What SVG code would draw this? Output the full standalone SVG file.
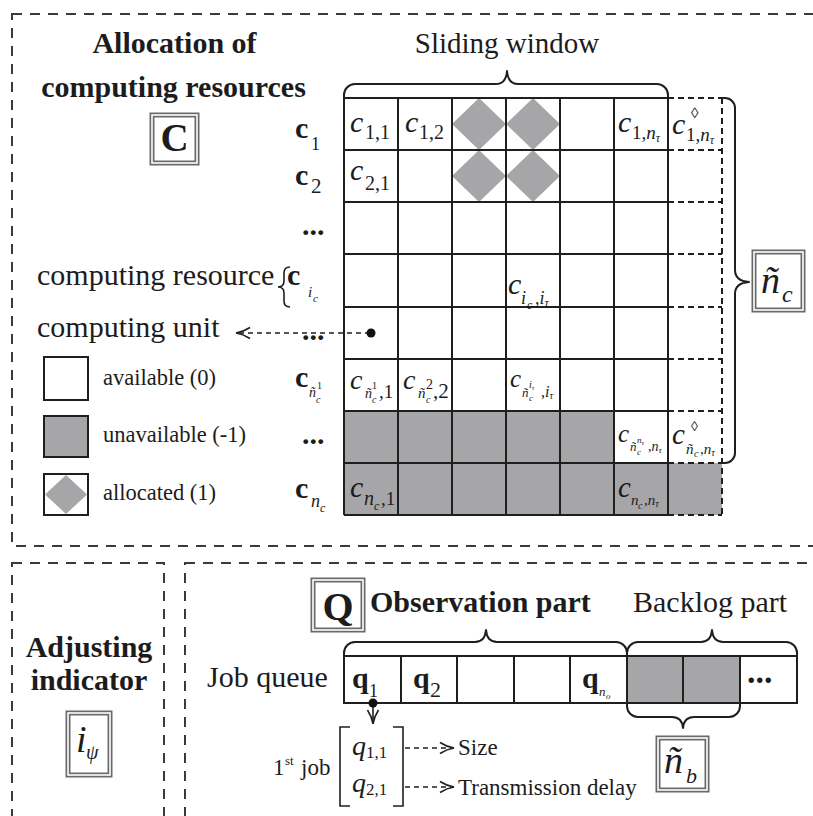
<svg xmlns="http://www.w3.org/2000/svg" width="813" height="816" viewBox="0 0 813 816">
  <defs>
    <style>
      .t { font-family: "Liberation Serif", "Times New Roman", serif; fill: #1c1c1c; }
      .b { font-weight: bold; }
      .i { font-style: italic; }
      .panel { fill: none; stroke: #3a3a3a; stroke-width: 2; stroke-dasharray: 10 8; }
      .grid { stroke: #1f1f1f; stroke-width: 2; fill: none; }
      .dgrid { stroke: #1f1f1f; stroke-width: 2; fill: none; stroke-dasharray: 6 4; }
      .gray { fill: #a6a6a9; }
      .brace { fill: none; stroke: #1f1f1f; stroke-width: 2; stroke-linejoin: round; }
      .box-out { fill: #ffffff; stroke: #6a6a6a; stroke-width: 5; }
      .box-in { fill: none; stroke: #ffffff; stroke-width: 1.6; }
      .conn { fill: none; stroke: #1f1f1f; stroke-width: 1.6; stroke-dasharray: 5 4; }
      .solid { fill: none; stroke: #1f1f1f; stroke-width: 1.6; }
    </style>
    <marker id="chev" viewBox="0 0 16 14" refX="15" refY="7" markerWidth="16" markerHeight="14" markerUnits="userSpaceOnUse" orient="auto">
      <path d="M1,1.5 Q8,6 15,7 Q8,8 1,12.5" fill="none" stroke="#1f1f1f" stroke-width="1.6"/>
    </marker>
  </defs>

  <rect width="813" height="816" fill="#ffffff"/>

  <!-- panel frames -->
  <g id="panels">
    <rect class="panel" x="12" y="14" width="830" height="532"/>
    <rect class="panel" x="12" y="563" width="152" height="300"/>
    <rect class="panel" x="185" y="563" width="700" height="300"/>
  </g>

  <!-- title of the allocation matrix -->
  <g id="title-C">
    <text class="t b" x="174.5" y="53" font-size="30" text-anchor="middle">Allocation of</text>
    <text class="t b" x="173.5" y="97" font-size="30" text-anchor="middle">computing resources</text>
    <rect class="box-out" x="152" y="115" width="45" height="48"/>
    <rect class="box-in" x="152" y="115" width="45" height="48"/>
    <text class="t b" x="174.5" y="151" font-size="39" text-anchor="middle">C</text>
  </g>

  <g id="sliding-window">
    <text class="t" x="507" y="53" font-size="29" text-anchor="middle">Sliding window</text>
    <path class="brace" d="M344,98 V95 A11,11 0 0 1 355,84 H496 Q506,84 507,71 Q508,84 518,84 H657 A11,11 0 0 1 668,95 V98"/>
  </g>

  <!-- allocation matrix -->
  <g id="matrix">
    <rect class="gray" x="344" y="411" width="270" height="52"/>
    <rect class="gray" x="344" y="463" width="378" height="52"/>
    <polygon class="gray" points="452,124 479,98 506,124 479,150"/>
    <polygon class="gray" points="506,124 533,98 560,124 533,150"/>
    <polygon class="gray" points="452,176 479,150 506,176 479,202"/>
    <polygon class="gray" points="506,176 533,150 560,176 533,202"/>
    <path class="grid" d="M344,98 V515 M398,98 V515 M452,98 V515 M506,98 V515 M560,98 V515 M614,98 V515 M668,98 V515
      M344,98 H668 M344,150 H668 M344,202 H668 M344,254 H668 M344,307 H668 M344,359 H668 M344,411 H668 M344,463 H668 M344,515 H668"/>
    <path class="dgrid" d="M668,98 H722 M668,150 H722 M668,202 H722 M668,254 H722 M668,307 H722 M668,359 H722 M668,411 H722 M668,463 H722 M668,515 H722 M722,98 V515"/>
  </g>

  <!-- entries of the matrix -->
  <g id="cell-labels">
    <text class="t i" x="350" y="132" font-size="30">c</text>
    <text class="t" x="365" y="139" font-size="20">1,1</text>
    <text class="t i" x="405" y="132" font-size="30">c</text>
    <text class="t" x="419" y="139" font-size="20">1,2</text>
    <text class="t i" x="618" y="132" font-size="30">c</text>
    <text class="t" x="632" y="139" font-size="19">1,<tspan class="i">n</tspan><tspan class="i" font-size="12" dy="3">τ</tspan></text>
    <text class="t i" x="672" y="134" font-size="30">c</text>
    <text class="t" x="691" y="118" font-size="15">◊</text>
    <text class="t" x="686" y="141" font-size="19">1,<tspan class="i">n</tspan><tspan class="i" font-size="12" dy="3">τ</tspan></text>

    <text class="t i" x="350" y="180" font-size="30">c</text>
    <text class="t" x="365" y="190" font-size="20">2,1</text>

    <text class="t i" x="508" y="294" font-size="30">c</text>
    <text class="t i" x="521" y="304" font-size="18">i</text>
    <text class="t i" x="527" y="309" font-size="12">c</text>
    <text class="t" x="535" y="304" font-size="18">,<tspan class="i">i</tspan><tspan class="i" font-size="12" dy="3">τ</tspan></text>

    <text class="t i" x="350" y="389" font-size="28">c</text>
    <text class="t i" x="365" y="398" font-size="14">ñ</text>
    <text class="t" x="372" y="389" font-size="10">1</text>
    <text class="t i" x="372" y="403" font-size="10">c</text>
    <text class="t" x="379" y="398" font-size="19">,1</text>
    <text class="t i" x="403" y="389" font-size="28">c</text>
    <text class="t i" x="418" y="398" font-size="15">ñ</text>
    <text class="t" x="426" y="389" font-size="14">2</text>
    <text class="t i" x="426" y="403" font-size="10">c</text>
    <text class="t" x="433" y="398" font-size="21">,2</text>
    <text class="t i" x="510" y="387" font-size="25">c</text>
    <text class="t i" x="522" y="397" font-size="13">ñ</text>
    <text class="t i" x="529" y="388" font-size="10">i<tspan font-size="7" dy="2">τ</tspan></text>
    <text class="t i" x="529" y="401" font-size="9">c</text>
    <text class="t" x="541" y="397" font-size="16">,<tspan class="i">i</tspan><tspan class="i" font-size="10" dy="2">τ</tspan></text>

    <text class="t i" x="618" y="442" font-size="25">c</text>
    <text class="t i" x="630" y="451" font-size="13">ñ</text>
    <text class="t i" x="637" y="443" font-size="9">n<tspan font-size="7" dy="2">τ</tspan></text>
    <text class="t i" x="637" y="455" font-size="9">c</text>
    <text class="t" x="648" y="451" font-size="14">,<tspan class="i">n</tspan><tspan class="i" font-size="9" dy="2">τ</tspan></text>
    <text class="t i" x="672" y="444" font-size="29">c</text>
    <text class="t" x="691" y="431" font-size="14">◊</text>
    <text class="t i" x="686" y="454" font-size="15">ñ</text>
    <text class="t i" x="694" y="457" font-size="10">c</text>
    <text class="t" x="700" y="454" font-size="15">,<tspan class="i">n</tspan><tspan class="i" font-size="10" dy="2">τ</tspan></text>

    <text class="t i" x="350" y="497" font-size="30">c</text>
    <text class="t i" x="364" y="505" font-size="20">n</text>
    <text class="t i" x="374" y="510" font-size="12">c</text>
    <text class="t" x="381" y="505" font-size="19">,1</text>
    <text class="t i" x="618" y="497" font-size="29">c</text>
    <text class="t i" x="631" y="505" font-size="15">n</text>
    <text class="t i" x="638" y="509" font-size="10">c</text>
    <text class="t" x="644" y="505" font-size="15">,<tspan class="i">n</tspan><tspan class="i" font-size="10" dy="2">τ</tspan></text>
  </g>

  <!-- row vectors of the matrix -->
  <g id="row-labels">
    <text class="t b" x="295" y="138" font-size="30">c</text>
    <text class="t" x="311" y="150" font-size="18">1</text>
    <text class="t b" x="295" y="185" font-size="30">c</text>
    <text class="t" x="311" y="193" font-size="21">2</text>
    <text class="t b" x="302" y="235" font-size="30">...</text>
    <text class="t b" x="295" y="387" font-size="30">c</text>
    <text class="t i" x="309" y="397" font-size="14">ñ</text>
    <text class="t" x="317" y="389" font-size="10">1</text>
    <text class="t i" x="316" y="403" font-size="10">c</text>
    <text class="t b" x="302" y="444" font-size="30">...</text>
    <text class="t b" x="295" y="498" font-size="30">c</text>
    <text class="t i" x="311" y="507" font-size="18">n</text>
    <text class="t i" x="320" y="512" font-size="12">c</text>
  </g>

  <g id="computing-resource">
    <text class="t" x="37" y="285" font-size="30">computing resource</text>
    <path class="solid" d="M290,267 Q284,267 284,273 V281 Q284,287 278,287 Q284,287 284,293 V301 Q284,307 290,307"/>
    <text class="t b" x="287" y="285" font-size="30">c</text>
    <text class="t i" x="308" y="297" font-size="15">i</text>
    <text class="t i" x="313" y="302" font-size="11">c</text>
  </g>

  <g id="computing-unit">
    <text class="t" x="37" y="337" font-size="30">computing unit</text>
    <text class="t b" x="302" y="340" font-size="30">...</text>
  </g>

  <g id="legend">
    <rect x="44" y="357" width="44" height="43" fill="#ffffff" stroke="#1f1f1f" stroke-width="2"/>
    <text class="t" x="103" y="385" font-size="22.5">available (0)</text>
    <rect class="gray" x="44" y="416" width="44" height="41" stroke="#1f1f1f" stroke-width="2"/>
    <text class="t" x="103" y="442" font-size="22.5">unavailable (-1)</text>
    <rect x="44" y="474" width="44" height="41" fill="#ffffff" stroke="#1f1f1f" stroke-width="2"/>
    <polygon class="gray" points="45,494.5 66,475 87,494.5 66,514"/>
    <text class="t" x="103" y="500" font-size="22.5">allocated (1)</text>
  </g>

  <g id="n-c">
    <rect class="box-out" x="754" y="252" width="49" height="58"/>
    <rect class="box-in" x="754" y="252" width="49" height="58"/>
    <text class="t i" x="761" y="293" font-size="38">ñ</text>
    <text class="t i" x="782" y="302" font-size="24">c</text>
  </g>

  <!-- adjusting indicator panel -->
  <g id="adjusting-indicator">
    <text class="t b" x="89" y="657" font-size="30" text-anchor="middle">Adjusting</text>
    <text class="t b" x="89" y="690" font-size="30" text-anchor="middle">indicator</text>
    <rect class="box-out" x="68" y="713" width="42" height="62"/>
    <rect class="box-in" x="68" y="713" width="42" height="62"/>
    <text class="t i" x="76" y="752" font-size="38">i</text>
    <text class="t i" x="86" y="759" font-size="20">ψ</text>
  </g>

  <!-- job queue panel -->
  <g id="title-Q">
    <rect class="box-out" x="313" y="580" width="50" height="50"/>
    <rect class="box-in" x="313" y="580" width="50" height="50"/>
    <text class="t b" x="338" y="620" font-size="40" text-anchor="middle">Q</text>
    <text class="t b" x="370" y="612" font-size="30">Observation part</text>
    <text class="t" x="633" y="612" font-size="30">Backlog part</text>
  </g>

  <g id="job-queue">
    <text class="t" x="207" y="687" font-size="30">Job queue</text>
    <rect class="gray" x="627" y="656" width="113" height="47"/>
    <path class="grid" d="M344,656 H797 V703 H344 Z M401,656 V703 M457,656 V703 M514,656 V703 M570,656 V703 M627,656 V703 M683,656 V703 M740,656 V703"/>
    <text class="t b" x="352" y="688" font-size="30">q</text>
    <text class="t" x="369" y="697" font-size="18">1</text>
    <text class="t b" x="413" y="688" font-size="30">q</text>
    <text class="t" x="430" y="697" font-size="22">2</text>
    <text class="t b" x="582" y="688" font-size="30">q</text>
    <text class="t i" x="599" y="696" font-size="13">n</text>
    <text class="t i" x="606" y="699" font-size="9">o</text>
    <text class="t b" x="747" y="683" font-size="34">...</text>
    <path class="brace" d="M344,656 V653 A11,11 0 0 1 355,642 H475 Q485,642 486,630 Q487,642 497,642 H616 A11,11 0 0 1 627,653 V656"/>
    <path class="brace" d="M627,656 V653 A11,11 0 0 1 638,642 H701 Q711,642 712,630 Q713,642 723,642 H786 A11,11 0 0 1 797,653 V656"/>
    <path class="brace" d="M627,703 V706 A11,11 0 0 0 638,717 H672 Q682,717 683,728 Q684,717 694,717 H729 A11,11 0 0 0 740,706 V703"/>
  </g>

  <g id="n-b">
    <rect class="box-out" x="658" y="738" width="49" height="52"/>
    <rect class="box-in" x="658" y="738" width="49" height="52"/>
    <text class="t i" x="664" y="773" font-size="38">ñ</text>
    <text class="t i" x="686" y="783" font-size="22">b</text>
  </g>

  <g id="first-job">
    <text class="t" x="273" y="775" font-size="23">1</text>
    <text class="t" x="285" y="765" font-size="13">st</text>
    <text class="t" x="301" y="775" font-size="23">job</text>
    <path class="solid" d="M350,727 H340 V806 H350 M393,727 H403 V806 H393"/>
    <text class="t i" x="352" y="755" font-size="28">q</text>
    <text class="t" x="366" y="758" font-size="17">1,1</text>
    <text class="t i" x="352" y="792" font-size="28">q</text>
    <text class="t" x="366" y="795" font-size="17">2,1</text>
    <text class="t" x="458" y="755" font-size="23">Size</text>
    <text class="t" x="458" y="795" font-size="23">Transmission delay</text>
  </g>

  <!-- connectors -->
  <g id="connectors">
    <path class="conn" d="M370,333 H236" marker-end="url(#chev)"/>
    <circle cx="371" cy="333" r="4.5" fill="#111"/>
    <path class="solid" d="M373,703 V724" marker-end="url(#chev)"/>
    <circle cx="373" cy="703" r="4.5" fill="#111"/>
    <path class="conn" d="M405,748 H454" marker-end="url(#chev)"/>
    <path class="conn" d="M405,787 H454" marker-end="url(#chev)"/>
    <path class="brace" d="M722,98 H725 A10,10 0 0 1 735,108 V270 Q735,281 749,282 Q735,283 735,294 V453 A10,10 0 0 1 725,463 H722"/>
  </g>
</svg>
